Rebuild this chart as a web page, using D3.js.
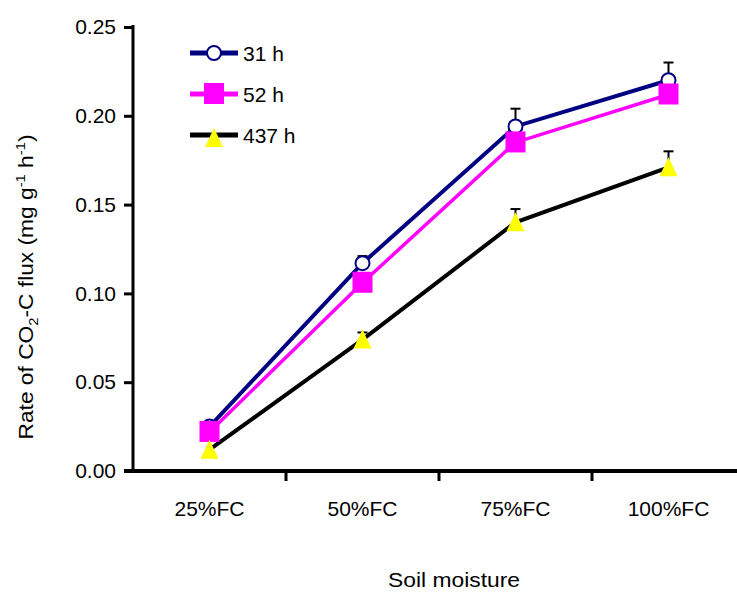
<!DOCTYPE html>
<html>
<head>
<meta charset="utf-8">
<style>
  body { margin: 0; background: #fff; }
  svg { display: block; font-family: "Liberation Sans", Arial, sans-serif; }
</style>
</head>
<body>
<svg id="chart"></svg>
<script src="https://d3js.org/d3.v7.min.js"></script>
<script>
const width = 737, height = 592;

// data
const categories = ["25%FC", "50%FC", "75%FC", "100%FC"];
const h31 = [0.025, 0.117, 0.194, 0.220];
const h31err = [0, 0.004, 0.010, 0.010];
const h52 = [0.022, 0.106, 0.185, 0.212];
const h437 = [0.012, 0.074, 0.140, 0.171];
const h437err = [0, 0.004, 0.0075, 0.009];
const yTicks = [0, 0.05, 0.10, 0.15, 0.20, 0.25];

const series = [
  { name: "31 h", values: h31, err: h31err, color: "#000080", marker: "circle", width: 4 },
  { name: "52 h", values: h52, err: null, color: "#ff00ff", marker: "square", width: 3.5 },
  { name: "437 h", values: h437, err: h437err, color: "#000000", marker: "triangle", width: 4 }
];

const svg = d3.select("#chart").attr("width", width).attr("height", height);

const x = d3.scaleBand().domain(categories).range([133, 745]).padding(0);
const y = d3.scaleLinear().domain([0, 0.25]).range([471, 27]);
const cx = d => x(d) + x.bandwidth() / 2;

// y axis
const yAxis = svg.append("g")
  .attr("transform", "translate(133,0)")
  .call(d3.axisLeft(y).tickValues(yTicks).tickFormat(d3.format(".2f")).tickSize(9).tickSizeOuter(0).tickPadding(8));
yAxis.select(".domain").attr("stroke-width", 3).attr("d", `M0,${y(0.25) - 2}V${y(0) + 2}`);
yAxis.selectAll(".tick line").attr("stroke-width", 3);
yAxis.selectAll(".tick text").attr("font-size", 21).attr("font-family", "Liberation Sans, Arial, sans-serif").attr("fill", "#000");

// x axis
const xAxis = svg.append("g")
  .attr("transform", `translate(0,${y(0)})`)
  .call(d3.axisBottom(x).tickSize(0).tickPadding(30));
xAxis.select(".domain").attr("stroke-width", 4).attr("d", "M124,0H737");
xAxis.selectAll(".tick text").attr("font-size", 21).attr("font-family", "Liberation Sans, Arial, sans-serif").attr("fill", "#000");
xAxis.selectAll(".sep").data(categories.slice(1)).enter().append("line")
  .attr("class", "sep")
  .attr("x1", d => x(d)).attr("x2", d => x(d))
  .attr("y1", 0).attr("y2", 10)
  .attr("stroke", "#000").attr("stroke-width", 3);

// axis titles
svg.append("text")
  .attr("x", 454).attr("y", 587)
  .attr("text-anchor", "middle")
  .attr("font-size", 21)
  .attr("textLength", 132)
  .attr("lengthAdjust", "spacingAndGlyphs")
  .text("Soil moisture");

const yt = svg.append("text")
  .attr("transform", "translate(33,287) rotate(-90)")
  .attr("text-anchor", "middle")
  .attr("font-size", 20)
  .attr("textLength", 305)
  .attr("lengthAdjust", "spacingAndGlyphs");
yt.append("tspan").text("Rate of CO");
yt.append("tspan").attr("font-size", 13).attr("dy", 5).text("2");
yt.append("tspan").attr("dy", -5).text("-C flux (mg g");
yt.append("tspan").attr("font-size", 13).attr("dy", -8).text("-1");
yt.append("tspan").attr("dy", 8).text(" h");
yt.append("tspan").attr("font-size", 13).attr("dy", -8).text("-1");
yt.append("tspan").attr("dy", 8).text(")");

const line = d3.line().x((d, i) => cx(categories[i])).y(d => y(d));

function drawMarker(g, type, color) {
  if (type === "circle") {
    g.append("circle").attr("r", 7).attr("fill", "#fff").attr("stroke", color).attr("stroke-width", 2);
  } else if (type === "square") {
    g.append("rect").attr("x", -10).attr("y", -11).attr("width", 20).attr("height", 21).attr("fill", "#ff00ff");
  } else {
    g.append("path").attr("d", "M0,-10L9,9H-9Z").attr("fill", "#ffff00");
  }
}

series.forEach(s => {
  // error bars (upper only)
  if (s.err) {
    s.values.forEach((v, i) => {
      if (!s.err[i]) return;
      const px = cx(categories[i]);
      svg.append("line").attr("x1", px).attr("x2", px)
        .attr("y1", y(v)).attr("y2", y(v + s.err[i]))
        .attr("stroke", "#000").attr("stroke-width", 2);
      svg.append("line").attr("x1", px - 5).attr("x2", px + 5)
        .attr("y1", y(v + s.err[i])).attr("y2", y(v + s.err[i]))
        .attr("stroke", "#000").attr("stroke-width", 2);
    });
  }
  svg.append("path").datum(s.values)
    .attr("d", line)
    .attr("fill", "none")
    .attr("stroke", s.color)
    .attr("stroke-width", s.width);
});

series.forEach(s => {
  s.values.forEach((v, i) => {
    const g = svg.append("g").attr("transform", `translate(${cx(categories[i])},${y(v)})`);
    drawMarker(g, s.marker, s.color);
  });
});

// legend
const legend = svg.append("g");
series.forEach((s, i) => {
  const ly = 53 + i * 41;
  legend.append("line").attr("x1", 190).attr("x2", 238).attr("y1", ly).attr("y2", ly)
    .attr("stroke", s.color).attr("stroke-width", 5);
  const g = legend.append("g").attr("transform", `translate(214,${ly + (s.marker === "triangle" ? 3 : 0)})`);
  drawMarker(g, s.marker, s.color);
  legend.append("text").attr("x", 243).attr("y", ly + 8).attr("font-size", 21).text(s.name);
});
</script>
</body>
</html>
